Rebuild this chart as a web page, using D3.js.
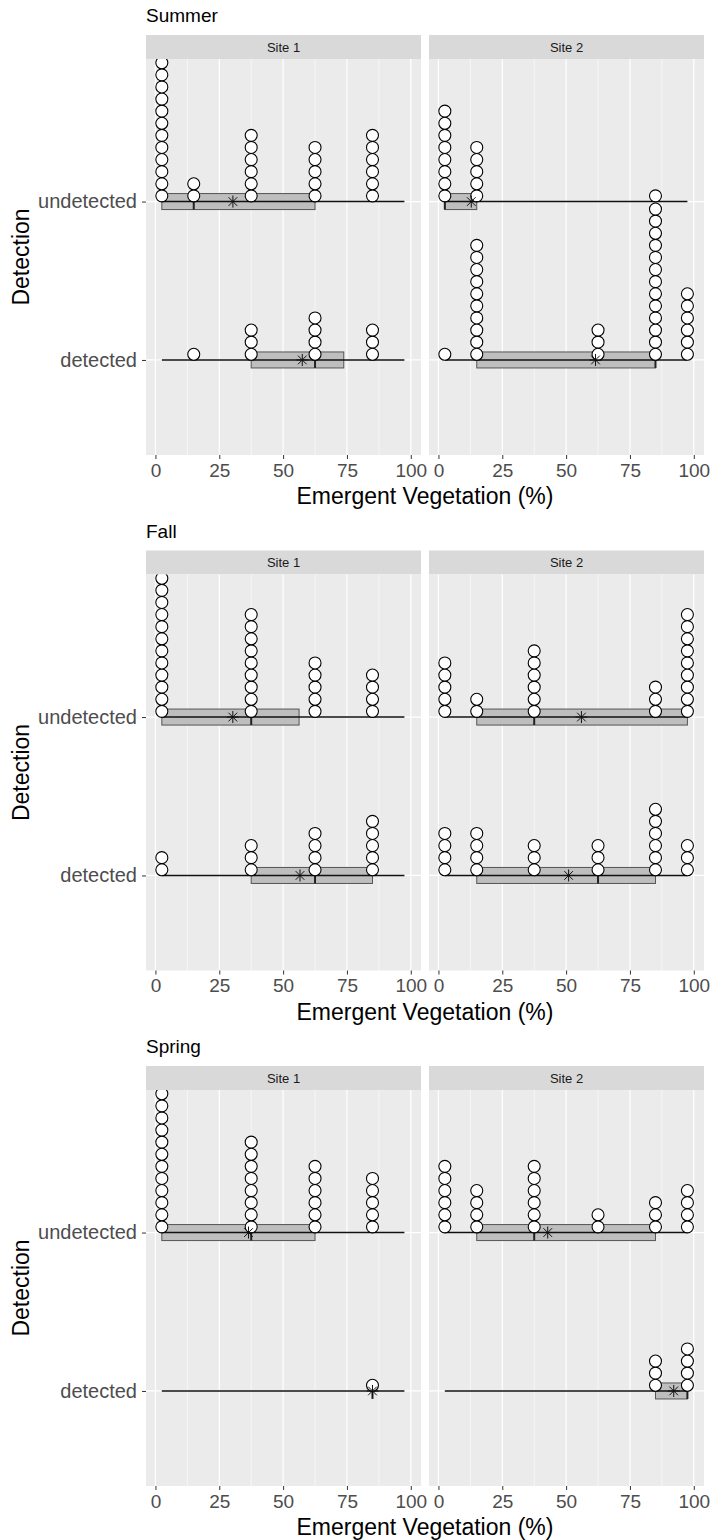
<!DOCTYPE html>
<html>
<head>
<meta charset="utf-8">
<script src="https://cdn.jsdelivr.net/npm/d3@7"></script>
<style>
  body { margin: 0; background: #fff; }
  svg text { font-family: "Liberation Sans", Arial, Helvetica, sans-serif; }
</style>
</head>
<body>
<svg id="chart" width="712" height="1540"></svg>
<script>
const seasons = ['Summer', 'Fall', 'Spring'];
const sites = ['Site 1', 'Site 2'];
const detections = ['detected', 'undetected'];
const coverClasses = [2.5, 15, 37.5, 62.5, 85, 97.5];
const xTicks = [0, 25, 50, 75, 100];
const xMinorTicks = [12.5, 37.5, 62.5, 87.5];

// plots per cover class (same order as coverClasses)
const summerSite1Undetected = [18, 2, 6, 5, 6, 0];
const summerSite1Detected = [0, 1, 3, 4, 3, 0];
const summerSite2Undetected = [8, 5, 0, 0, 1, 0];
const summerSite2Detected = [1, 10, 0, 3, 13, 6];

const fallSite1Undetected = [16, 0, 9, 5, 4, 0];
const fallSite1Detected = [2, 0, 3, 4, 5, 0];
const fallSite2Undetected = [5, 2, 6, 0, 3, 9];
const fallSite2Detected = [4, 4, 3, 3, 6, 3];

const springSite1Undetected = [12, 0, 8, 6, 5, 0];
const springSite1Detected = [0, 0, 0, 0, 1, 0];
const springSite2Undetected = [6, 4, 6, 2, 3, 4];
const springSite2Detected = [0, 0, 0, 0, 3, 4];

const counts = {
  Summer: {
    'Site 1': { undetected: summerSite1Undetected, detected: summerSite1Detected },
    'Site 2': { undetected: summerSite2Undetected, detected: summerSite2Detected },
  },
  Fall: {
    'Site 1': { undetected: fallSite1Undetected, detected: fallSite1Detected },
    'Site 2': { undetected: fallSite2Undetected, detected: fallSite2Detected },
  },
  Spring: {
    'Site 1': { undetected: springSite1Undetected, detected: springSite1Detected },
    'Site 2': { undetected: springSite2Undetected, detected: springSite2Detected },
  },
};

// layout
const blockH = 515.5;
const stripTop0 = 35;
const stripH = 24;
const panelH = 396;
const panelX = [146, 429];
const panelW = 275;
const dotR = 6;
const dotStep = 12.1;
const boxHalf = 8;

const svg = d3.select('#chart');

const star = (s) => {
  const d = s * 0.72;
  return `M${-s},0H${s}M0,${-s}V${s}M${-d},${-d}L${d},${d}M${-d},${d}L${d},${-d}`;
};

seasons.forEach((season, si) => {
  const top = stripTop0 + si * blockH;
  const block = svg.append('g').attr('transform', `translate(0,${top})`);

  const y = d3.scaleLinear().domain([0.4, 2.9]).range([stripH + panelH, stripH]);
  const yCat = (c) => y(detections.indexOf(c) + 1);

  // season title
  block.append('text')
    .attr('x', panelX[0])
    .attr('y', -13)
    .attr('font-size', 19)
    .attr('fill', '#000')
    .text(season);

  // y title
  block.append('text')
    .attr('transform', `translate(29,${stripH + panelH / 2}) rotate(-90)`)
    .attr('text-anchor', 'middle')
    .attr('font-size', 23)
    .attr('fill', '#000')
    .text('Detection');

  // x title
  block.append('text')
    .attr('x', (panelX[0] + panelX[1] + panelW) / 2)
    .attr('y', stripH + panelH + 49)
    .attr('text-anchor', 'middle')
    .attr('font-size', 23)
    .attr('fill', '#000')
    .text('Emergent Vegetation (%)');

  sites.forEach((site, fi) => {
    const px = panelX[fi];
    const x = d3.scaleLinear().domain([-3.7, 104]).range([px, px + panelW]);
    const g = block.append('g');

    // strip
    g.append('rect')
      .attr('x', px).attr('y', 0)
      .attr('width', panelW).attr('height', stripH)
      .attr('fill', '#D9D9D9');
    g.append('text')
      .attr('x', px + panelW / 2)
      .attr('y', 16.5)
      .attr('text-anchor', 'middle')
      .attr('font-size', 13)
      .attr('fill', '#1A1A1A')
      .text(site);

    // panel background + grid
    g.append('rect')
      .attr('x', px).attr('y', stripH)
      .attr('width', panelW).attr('height', panelH)
      .attr('fill', '#EBEBEB');

    g.selectAll('.minor')
      .data(xMinorTicks)
      .join('line')
      .attr('x1', (d) => x(d)).attr('x2', (d) => x(d))
      .attr('y1', stripH).attr('y2', stripH + panelH)
      .attr('stroke', '#fff').attr('stroke-width', 0.6);

    g.selectAll('.major')
      .data(xTicks)
      .join('line')
      .attr('x1', (d) => x(d)).attr('x2', (d) => x(d))
      .attr('y1', stripH).attr('y2', stripH + panelH)
      .attr('stroke', '#fff').attr('stroke-width', 1.2);

    g.selectAll('.hgrid')
      .data(detections)
      .join('line')
      .attr('x1', px).attr('x2', px + panelW)
      .attr('y1', (d) => yCat(d)).attr('y2', (d) => yCat(d))
      .attr('stroke', '#fff').attr('stroke-width', 1.2);

    // x axis
    const xAxis = g.append('g')
      .attr('transform', `translate(0,${stripH + panelH})`)
      .call(d3.axisBottom(x).tickValues(xTicks).tickSize(4).tickPadding(4.5));
    xAxis.select('.domain').remove();
    xAxis.selectAll('line').attr('stroke', '#333').attr('stroke-width', 1);
    xAxis.selectAll('text').attr('font-size', 19).attr('fill', '#4D4D4D').attr('font-family', null);

    // y axis only on the left facet
    if (fi === 0) {
      const yAxis = g.append('g')
        .attr('transform', `translate(${px},0)`)
        .call(d3.axisLeft(y).tickValues([1, 2]).tickFormat((d) => detections[d - 1]).tickSize(4).tickPadding(5));
      yAxis.select('.domain').remove();
      yAxis.selectAll('line').attr('stroke', '#333').attr('stroke-width', 1);
      yAxis.selectAll('text').attr('font-size', 20).attr('fill', '#4D4D4D').attr('font-family', null);
    }

    // clip marks to the panel
    const clipId = `clip-${si}-${fi}`;
    g.append('clipPath').attr('id', clipId)
      .append('rect')
      .attr('x', px).attr('y', stripH)
      .attr('width', panelW).attr('height', panelH);
    const marks = g.append('g').attr('clip-path', `url(#${clipId})`);

    const [lo, hi] = d3.extent(coverClasses);

    detections.forEach((det) => {
      const cnt = counts[season][site][det];
      const values = coverClasses.flatMap((c, i) => d3.range(cnt[i]).map(() => c));
      const yb = yCat(det);
      const q1 = d3.quantile(values, 0.25);
      const med = d3.quantile(values, 0.5);
      const q3 = d3.quantile(values, 0.75);
      const mean = d3.mean(values);

      // box
      marks.append('rect')
        .attr('x', x(q1)).attr('y', yb - boxHalf)
        .attr('width', Math.max(0, x(q3) - x(q1))).attr('height', boxHalf * 2)
        .attr('fill', '#BEBEBE')
        .attr('stroke', '#555').attr('stroke-width', 1);
      marks.append('line')
        .attr('x1', x(med)).attr('x2', x(med))
        .attr('y1', yb - boxHalf).attr('y2', yb + boxHalf)
        .attr('stroke', '#222').attr('stroke-width', 2);

      // range line
      marks.append('line')
        .attr('x1', x(lo)).attr('x2', x(hi))
        .attr('y1', yb).attr('y2', yb)
        .attr('stroke', '#111').attr('stroke-width', 1.6);

      // stacked dots
      const dots = coverClasses.flatMap((c, i) => d3.range(cnt[i]).map((k) => ({ c, k })));
      marks.selectAll(null)
        .data(dots)
        .join('circle')
        .attr('cx', (d) => x(d.c))
        .attr('cy', (d) => yb - dotR + 0.3 - d.k * dotStep)
        .attr('r', dotR)
        .attr('fill', '#fff')
        .attr('stroke', '#000')
        .attr('stroke-width', 1.1);

      // mean
      marks.append('path')
        .attr('transform', `translate(${x(mean)},${yb})`)
        .attr('d', star(6))
        .attr('fill', 'none')
        .attr('stroke', '#111')
        .attr('stroke-width', 1);
    });
  });
});
</script>
</body>
</html>
